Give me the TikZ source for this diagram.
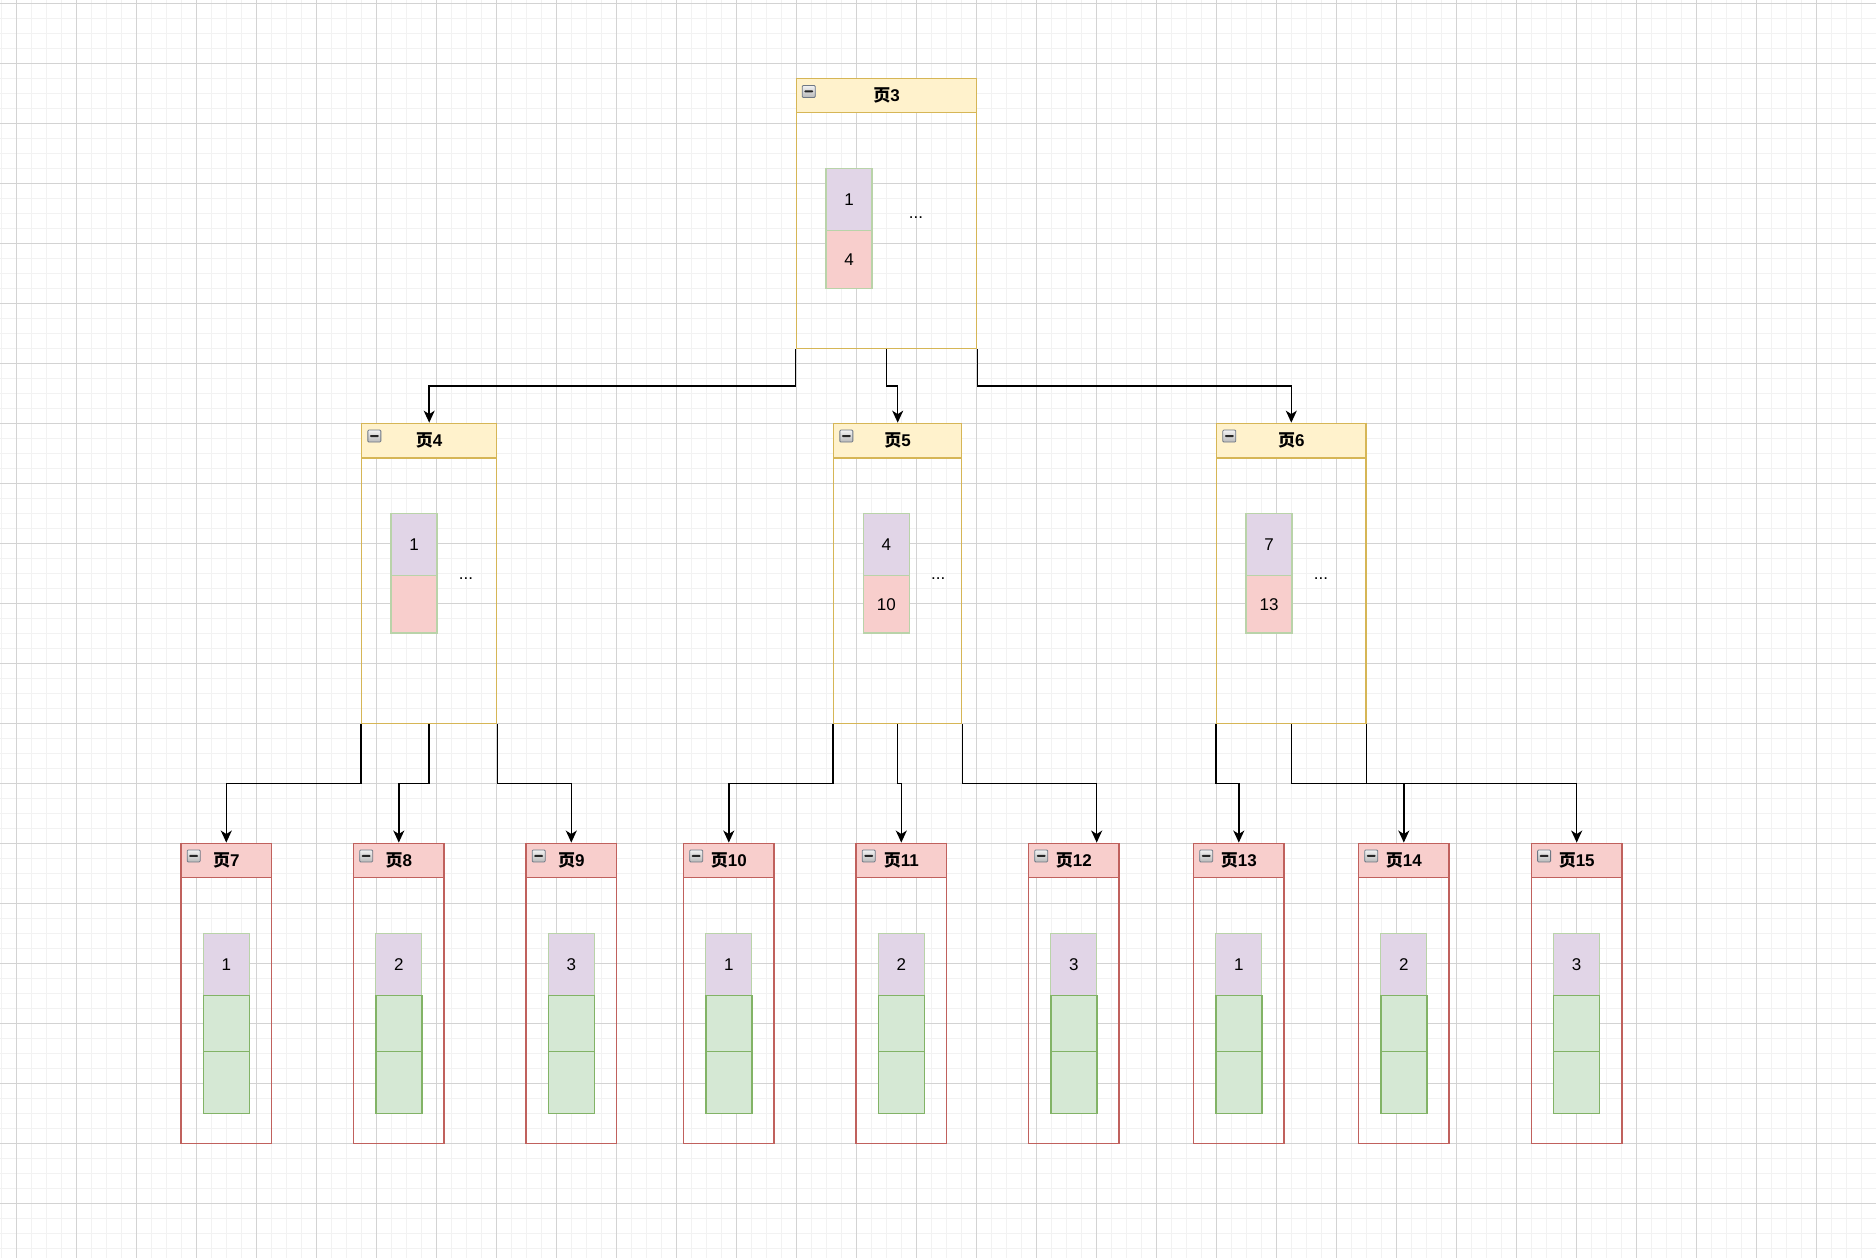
\documentclass[tikz,border=0pt]{standalone}
\usepackage{fontspec}
\setmainfont{Liberation Sans}
\newfontfamily\cjk{Noto Sans CJK SC}
\usetikzlibrary{arrows.meta, positioning, calc}
\definecolor{gridminor}{HTML}{F2F2F2}
\definecolor{gridmajor}{HTML}{D3D3D3}
\definecolor{headfill}{HTML}{FFF2CC}
\definecolor{headline}{HTML}{D6B656}
\definecolor{leaffill}{HTML}{F8CECC}
\definecolor{leafline}{HTML}{C0615D}
\definecolor{keypurple}{HTML}{E1D5E7}
\definecolor{keypink}{HTML}{F8CECC}
\definecolor{keyline}{HTML}{B9D3A9}
\definecolor{rowgreen}{HTML}{D5E8D4}
\definecolor{rowline}{HTML}{82B366}
\definecolor{iconline}{HTML}{6E7784}
\newcommand{\pagetitle}[1]{{\cjk\bfseries 页}\textbf{#1}}

\begin{document}
\begin{tikzpicture}[x=1pt, y=-1pt,
    box/.style={line width=1.5pt, inner sep=0pt},
    upperbox/.style={box, draw=headline, minimum height=300pt},
    leafbox/.style={box, draw=leafline, minimum width=90.5pt, minimum height=300pt},
    head/.style={box, minimum height=34.4pt, anchor=north, font=\fontsize{17}{17}\selectfont},
    keycell/.style={draw=keyline, line width=1.1pt, minimum width=46pt, inner sep=0pt,
                    outer sep=0pt, font=\fontsize{17}{17}\selectfont},
    rowcell/.style={draw=rowline, fill=rowgreen, line width=1.5pt, minimum width=46pt,
                    inner sep=0pt, outer sep=0pt},
    dots/.style={font=\fontsize{17}{17}\selectfont, inner sep=0pt},
    fold/.style={draw=iconline, line width=0.8pt, top color=gray!10, bottom color=gray!55,
                 rounded corners=1pt, minimum width=13pt, minimum height=12pt, inner sep=0pt,
                 anchor=north west,
                 path picture={\fill[black!85] ([xshift=-4.5pt,yshift=-1pt]path picture bounding box.center)
                                 rectangle ([xshift=4.5pt,yshift=1pt]path picture bounding box.center);}},
    link/.style={-{Stealth[length=12pt, width=11pt, inset=3.5pt]}, line width=1.5pt}
  ]
    \useasboundingbox (0,0) rectangle (1876,1258);
    \fill[white] (0,0) rectangle (1876,1258);

    % Grid
    \foreach \x in {1.5,16.5,...,1876} \draw[gridminor, line width=1.6pt] (\x,0) -- (\x,1258);
    \foreach \y in {3.3,18.3,...,1258} \draw[gridminor, line width=1.6pt] (0,\y) -- (1876,\y);
    \foreach \x in {16.5,76.5,...,1876} \draw[gridmajor, line width=1pt] (\x,0) -- (\x,1258);
    \foreach \y in {3.3,63.3,...,1258} \draw[gridmajor, line width=1pt] (0,\y) -- (1876,\y);

    % Root page
    \node[upperbox, minimum width=180.4pt, minimum height=270pt] (p3) at (886.5,213.3) {};
    \node[head, draw=headline, fill=headfill, minimum width=180.4pt] (h3) at (p3.north) {\pagetitle{3}};
    \node[fold] (f3) at ([xshift=6.3pt,yshift=-7.5pt]p3.north west) {};
    \node[keycell, fill=keypurple, minimum height=62.4pt, anchor=north] (ka3) at (849,168.3) {1};
    \node[keycell, fill=keypink, minimum height=57.6pt, below=0pt of ka3] (kb3) {4};
    \node[dots] (d3) at (916,218) {...};

    % Inner pages
    \foreach \n/\cx/\w/\kx/\a/\b in {4/429.2/135/414/1/, 5/897.7/128/886.3/4/10, 6/1291.3/149.3/1269/7/13} {
      \node[upperbox, minimum width=\w pt] (p\n) at (\cx,573.4) {};
      \node[head, draw=headline, fill=headfill, minimum width=\w pt] (h\n) at (p\n.north) {\pagetitle{\n}};
      \node[fold] (f\n) at ([xshift=6.5pt,yshift=-7pt]p\n.north west) {};
      \node[keycell, fill=keypurple, minimum height=62pt, anchor=north] (ka\n) at (\kx,513.7) {\a};
      \node[keycell, fill=keypink, minimum height=57.3pt, below=0pt of ka\n] (kb\n) {\b};
      \node[dots] (d\n) at ($(ka\n.south)+(52,2.5)$) {...};
    }

    % Leaf pages
    \foreach \n/\cx/\k in {7/226.3/1, 8/398.8/2, 9/571.3/3, 10/728.8/1, 11/901.3/2,
                           12/1073.8/3, 13/1238.8/1, 14/1403.8/2, 15/1576.7/3} {
      \node[leafbox] (p\n) at (\cx,993.3) {};
      \node[head, draw=leafline, fill=leaffill, minimum width=90.5pt] (h\n) at (p\n.north) {\pagetitle{\n}};
      \node[fold] (f\n) at ([xshift=6.5pt,yshift=-7pt]p\n.north west) {};
      \node[keycell, fill=keypurple, minimum height=62pt, anchor=north] (ka\n) at (\cx,933.3) {\k};
      \node[rowcell, minimum height=56.4pt, below=0pt of ka\n] (ra\n) {};
      \node[rowcell, minimum height=61.6pt, below=0pt of ra\n] (rb\n) {};
    }

    % Arrows
    \draw[link] (p3.south west) -- ++(0,36.7) -| (p4.north);
    \draw[link] (p3.south) -- ++(0,36.7) -| (p5.north);
    \draw[link] (p3.south east) -- ++(0,36.7) -| (p6.north);
    \draw[link] (p4.south west) -- ++(0,59.4) -| (p7.north);
    \draw[link] (p4.south) -- ++(0,59.4) -| (p8.north);
    \draw[link] (p4.south east) -- ++(0,59.4) -| (p9.north);
    \draw[link] (p5.south west) -- ++(0,59.4) -| (p10.north);
    \draw[link] (p5.south) -- ++(0,59.4) -| (p11.north);
    \draw[link] (p5.south east) -- ++(0,59.4) -| ([xshift=22.9pt]p12.north);
    \draw[link] (p6.south west) -- ++(0,59.4) -| (p13.north);
    \draw[link] (p6.south) -- ++(0,59.4) -| (p15.north);
    \draw[link] (p6.south east) -- ++(0,59.4) -| (p14.north);
  \end{tikzpicture}
\end{document}
